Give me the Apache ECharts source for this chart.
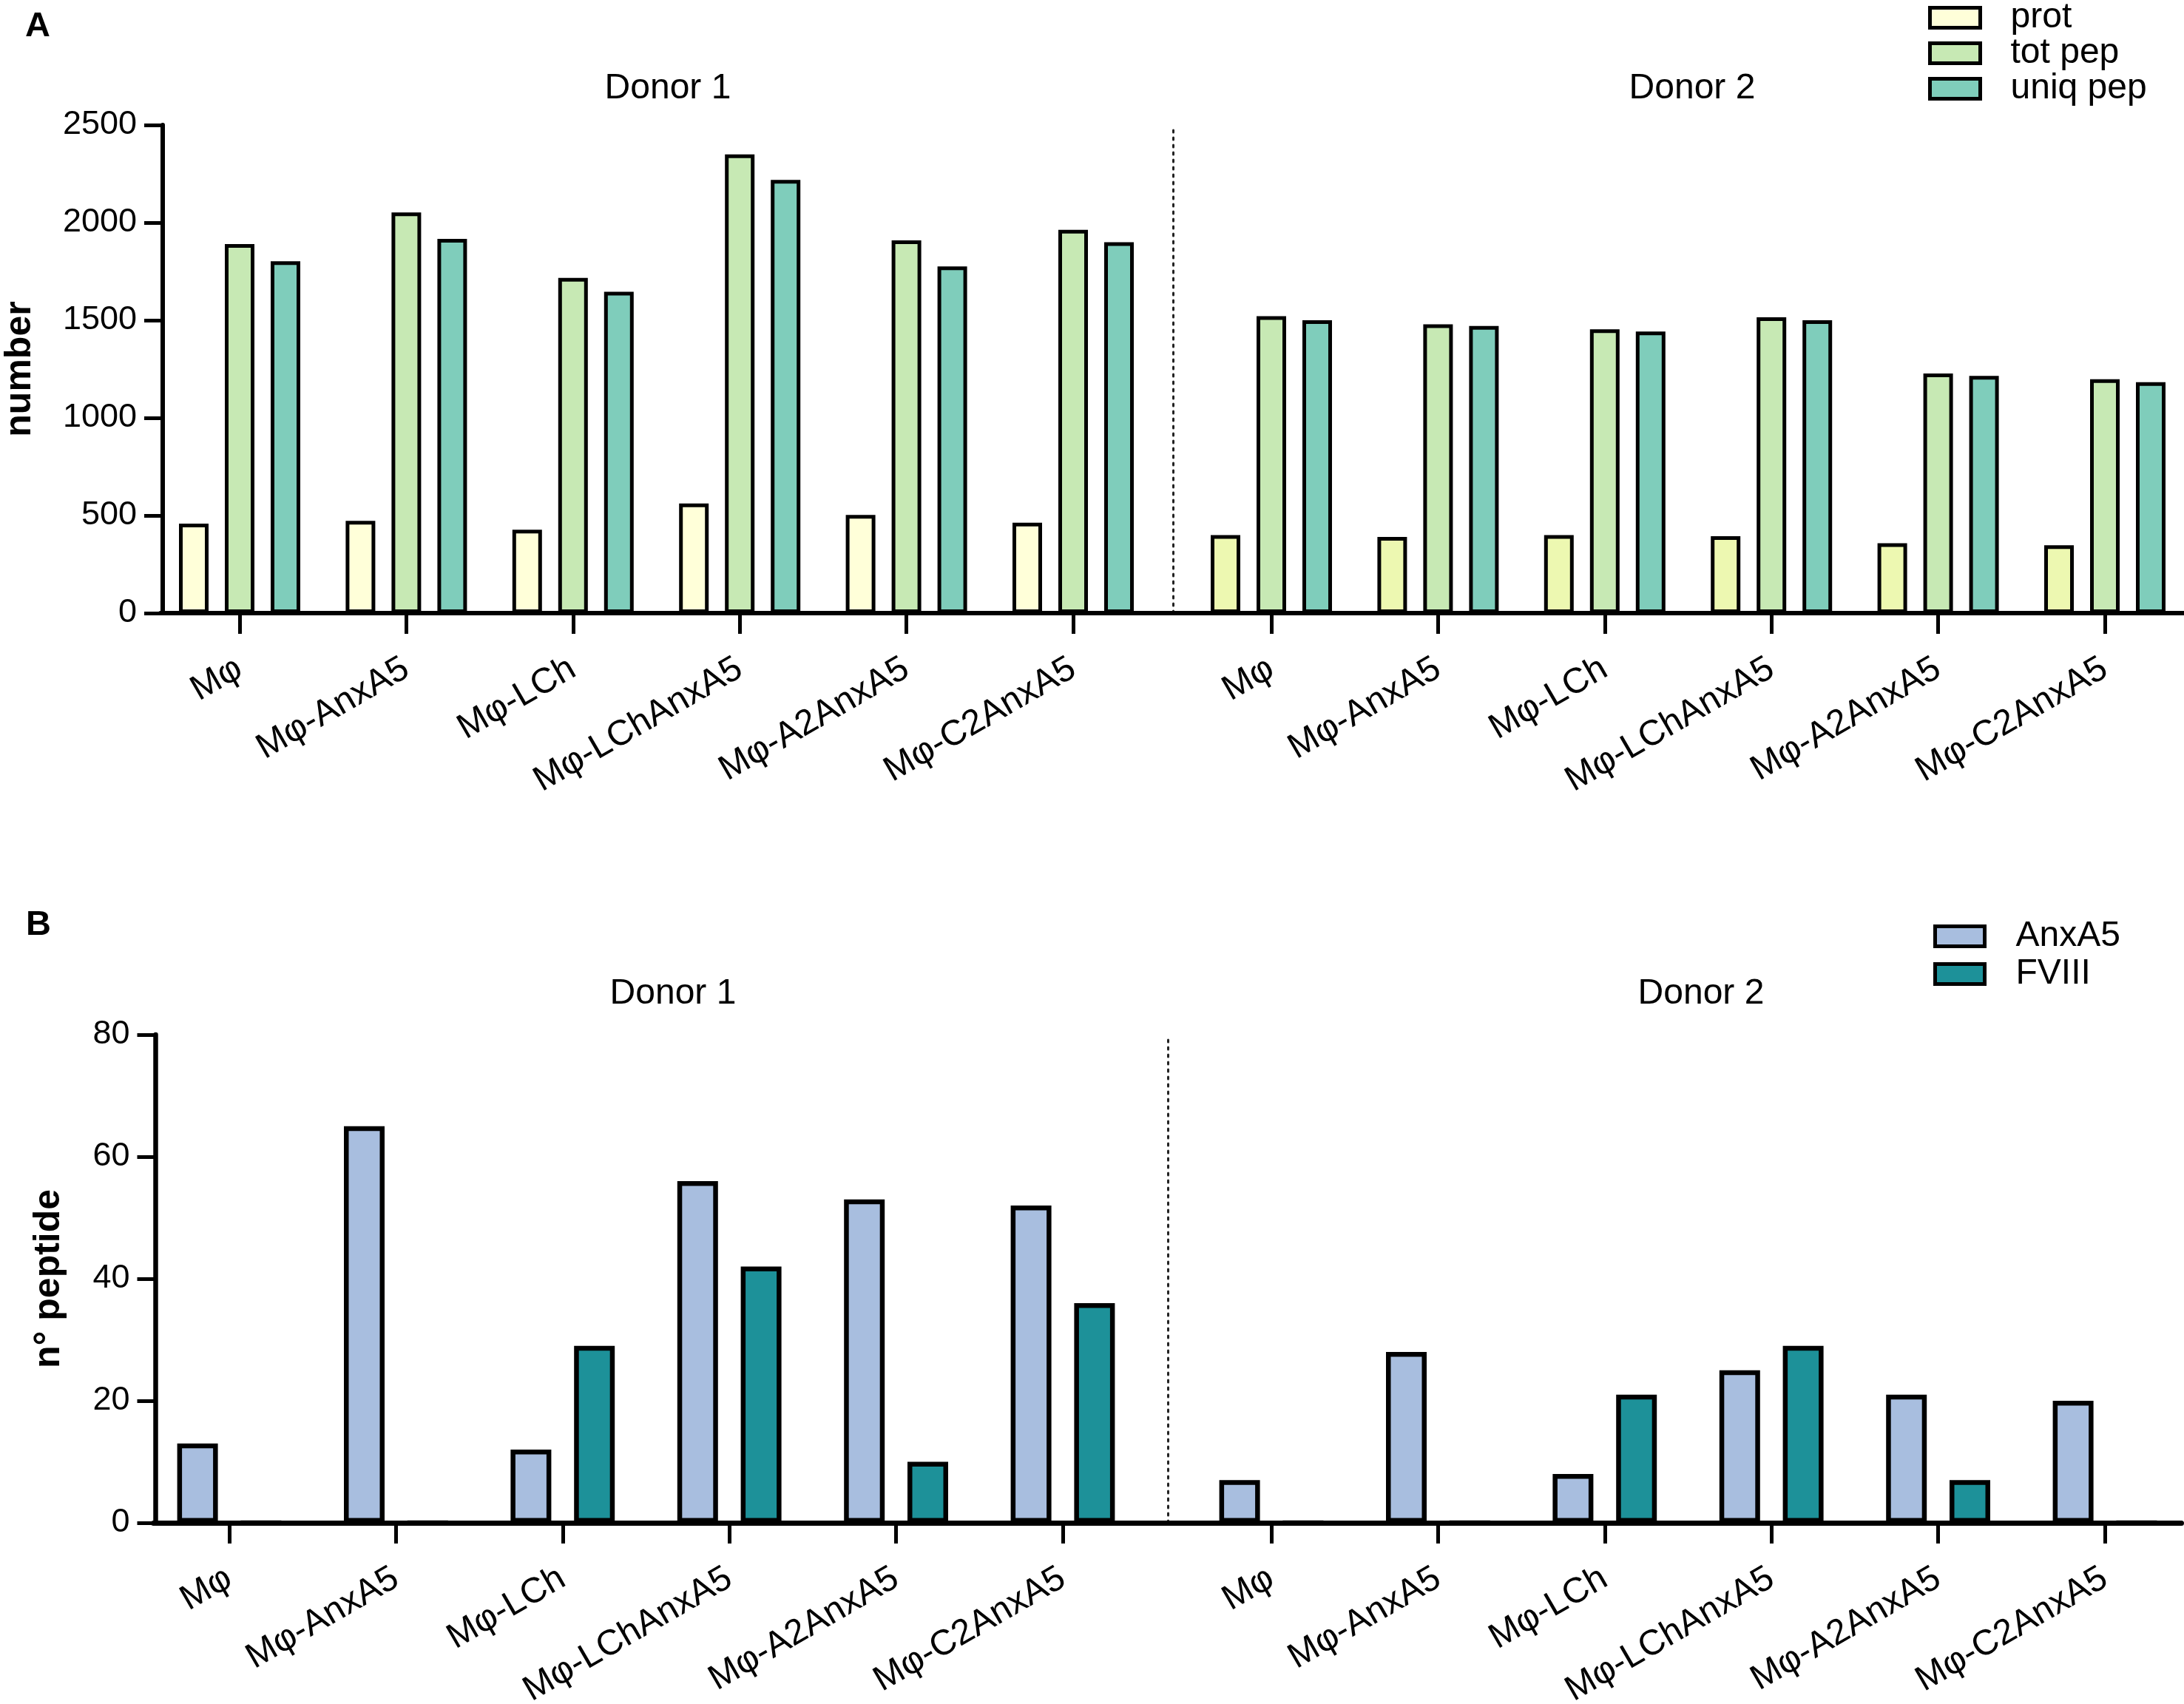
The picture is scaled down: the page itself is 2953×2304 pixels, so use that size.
<!DOCTYPE html>
<html>
<head>
<meta charset="utf-8">
<script src="https://cdn.jsdelivr.net/npm/echarts@6/dist/echarts.min.js"></script>
<style>
html,body{margin:0;padding:0;background:#fff;}
#chart{width:2953px;height:2304px;}
</style>
</head>
<body>
<div id="chart"></div>
<script>
// ---- data ----
const categories = ['Mφ', 'Mφ-AnxA5', 'Mφ-LCh', 'Mφ-LChAnxA5', 'Mφ-A2AnxA5', 'Mφ-C2AnxA5'];
const donorLabels = ['Donor 1', 'Donor 2'];
const seriesNamesA = ['prot', 'tot pep', 'uniq pep'];
const seriesNamesB = ['AnxA5', 'FVIII'];

const d1Prot = [458, 473, 427, 562, 503, 463];
const d1TotPep = [1890, 2052, 1717, 2349, 1909, 1963];
const d1UniqPep = [1802, 1917, 1646, 2219, 1776, 1900];
const d2Prot = [400, 390, 400, 394, 358, 348];
const d2TotPep = [1521, 1479, 1454, 1515, 1227, 1198];
const d2UniqPep = [1500, 1471, 1442, 1500, 1215, 1183];

const d1AnxA5 = [13, 65, 12, 56, 53, 52];
const d1FVIII = [0, 0, 29, 42, 10, 36];
const d2AnxA5 = [7, 28, 8, 25, 21, 20];
const d2FVIII = [0, 0, 21, 29, 7, 0];

const yTicksA = {min: 0, max: 2500, interval: 500};
const yTicksB = {min: 0, max: 80, interval: 20};

// ---- styles ----
const FONT = '"Liberation Sans", Arial, Helvetica, sans-serif';
const colD1Prot = '#ffffd9', colD2Prot = '#edf8b1', colTot = '#c7e9b4', colUniq = '#7fcdbb';
const colAnx = '#a8bedf', colF8 = '#1d9199';
const BAND = 225.4, GW = BAND * 6;

const chart = echarts.init(document.getElementById('chart'), null, {renderer: 'canvas'});

function catAxis(grid, labelMargin) {
  return {
    type: 'category', gridIndex: grid, data: categories,
    axisLine: {show: false},
    axisTick: {show: true, alignWithLabel: true, length: 28, lineStyle: {color: '#000', width: 5}},
    axisLabel: {interval: 0, rotate: 30, fontSize: 48, fontFamily: FONT, color: '#000', margin: labelMargin},
    splitLine: {show: false}
  };
}
function lineAxis(grid, w) {
  return {type: 'value', gridIndex: grid, min: 0, max: 1, z: 10,
    axisLine: {show: true, onZero: false, lineStyle: {color: '#000', width: w}},
    axisTick: {show: false}, axisLabel: {show: false}, splitLine: {show: false}};
}
function hiddenY(grid, t) {
  return {type: 'value', gridIndex: grid, min: t.min, max: t.max, interval: t.interval, show: false, splitLine: {show: false}};
}
function sepAxis(grid, t, off) {
  return {type: 'value', gridIndex: grid, position: 'right', offset: off, min: t.min, max: t.max,
    axisLine: {show: true, lineStyle: {color: '#222', width: 3, type: [3, 7]}},
    axisTick: {show: false}, axisLabel: {show: false}, splitLine: {show: false}};
}
function mainY(grid, t, off, name, nameGap, w) {
  return {type: 'value', gridIndex: grid, position: 'left', offset: off,
    min: t.min, max: t.max, interval: t.interval,
    name: name, nameLocation: 'middle', nameGap: nameGap,
    nameTextStyle: {fontSize: 50, fontWeight: 'bold', fontFamily: FONT, color: '#000'},
    axisLine: {show: true, lineStyle: {color: '#000', width: w}},
    axisTick: {show: true, length: 25, lineStyle: {color: '#000', width: 5}},
    axisLabel: {fontSize: 45, fontFamily: FONT, color: '#000', margin: 35, formatter: v => String(v)},
    splitLine: {show: false}};
}
function bar(name, data, color, xi, yi, bw, gap, border) {
  return {type: 'bar', name: name, data: data, xAxisIndex: xi, yAxisIndex: yi,
    barWidth: bw, barGap: gap,
    itemStyle: {color: color, borderColor: '#000', borderWidth: border},
    emphasis: {disabled: true}, animation: false};
}
function grid(left, top, width) {
  return {left: left, top: top, width: width, height: 660, containLabel: false, outerBoundsMode: 'none'};
}
function title(text, left, top, size, bold, center) {
  const t = {text: text, left: left, top: top, padding: 0,
    textStyle: {fontSize: size, fontWeight: bold ? 'bold' : 'normal', fontFamily: FONT, color: '#000'}};
  if (center) t.textAlign = 'center';
  return t;
}

const option = {
  backgroundColor: '#fff',
  animation: false,
  textStyle: {fontFamily: FONT},
  title: [
    title('A', 34, 13, 47, true, false),
    title('B', 35, 1228, 47, true, false),
    title(donorLabels[0], 903, 96, 48, false, true),
    title(donorLabels[1], 2288, 96, 48, false, true),
    title(donorLabels[0], 910, 1320, 48, false, true),
    title(donorLabels[1], 2300, 1320, 48, false, true)
  ],
  legend: [
    {data: seriesNamesA, orient: 'vertical', left: 2607, top: 0, padding: 0, icon: 'rect',
     itemWidth: 68, itemHeight: 27, itemGap: 0, selectedMode: false,
     itemStyle: {borderColor: '#000', borderWidth: 5},
     textStyle: {fontSize: 48, lineHeight: 41, fontFamily: FONT, color: '#000', padding: [0, 0, 0, 36]}},
    {data: seriesNamesB, orient: 'vertical', left: 2614, top: 1242, padding: 0, icon: 'rect',
     itemWidth: 67, itemHeight: 27, itemGap: 3, selectedMode: false,
     itemStyle: {borderColor: '#000', borderWidth: 5},
     textStyle: {fontSize: 48, lineHeight: 44, fontFamily: FONT, color: '#000', padding: [0, 0, 0, 37]}}
  ],
  grid: [
    grid(211.3, 169, GW),
    grid(1606.3, 169, GW),
    grid(217, 169, 2736),
    grid(197.3, 1399, GW),
    grid(1606.3, 1399, GW),
    grid(207.5, 1399, 2742)
  ],
  xAxis: [
    catAxis(0, 72), catAxis(1, 72), lineAxis(2, 6),
    catAxis(3, 72), catAxis(4, 72), lineAxis(5, 7)
  ],
  yAxis: [
    mainY(0, yTicksA, -8.7, 'number', 168, 6),
    sepAxis(0, yTicksA, 22.3),
    hiddenY(1, yTicksA),
    hiddenY(2, {min: 0, max: 1, interval: 1}),
    mainY(3, yTicksB, -13.2, 'n° peptide', 119, 6.5),
    sepAxis(3, yTicksB, 29.3),
    hiddenY(4, yTicksB),
    hiddenY(5, {min: 0, max: 1, interval: 1})
  ],
  series: [
    bar(seriesNamesA[0], d1Prot, colD1Prot, 0, 0, 40, '55%', 5),
    bar(seriesNamesA[1], d1TotPep, colTot, 0, 0, 40, '55%', 5),
    bar(seriesNamesA[2], d1UniqPep, colUniq, 0, 0, 40, '55%', 5),
    bar(seriesNamesA[0], d2Prot, colD2Prot, 1, 2, 40, '55%', 5),
    bar(seriesNamesA[1], d2TotPep, colTot, 1, 2, 40, '55%', 5),
    bar(seriesNamesA[2], d2UniqPep, colUniq, 1, 2, 40, '55%', 5),
    bar(seriesNamesB[0], d1AnxA5, colAnx, 3, 4, 55, '56%', 6.5),
    bar(seriesNamesB[1], d1FVIII, colF8, 3, 4, 55, '56%', 6.5),
    bar(seriesNamesB[0], d2AnxA5, colAnx, 4, 6, 55, '56%', 6.5),
    bar(seriesNamesB[1], d2FVIII, colF8, 4, 6, 55, '56%', 6.5)
  ]
};
chart.setOption(option);
</script>
</body>
</html>
